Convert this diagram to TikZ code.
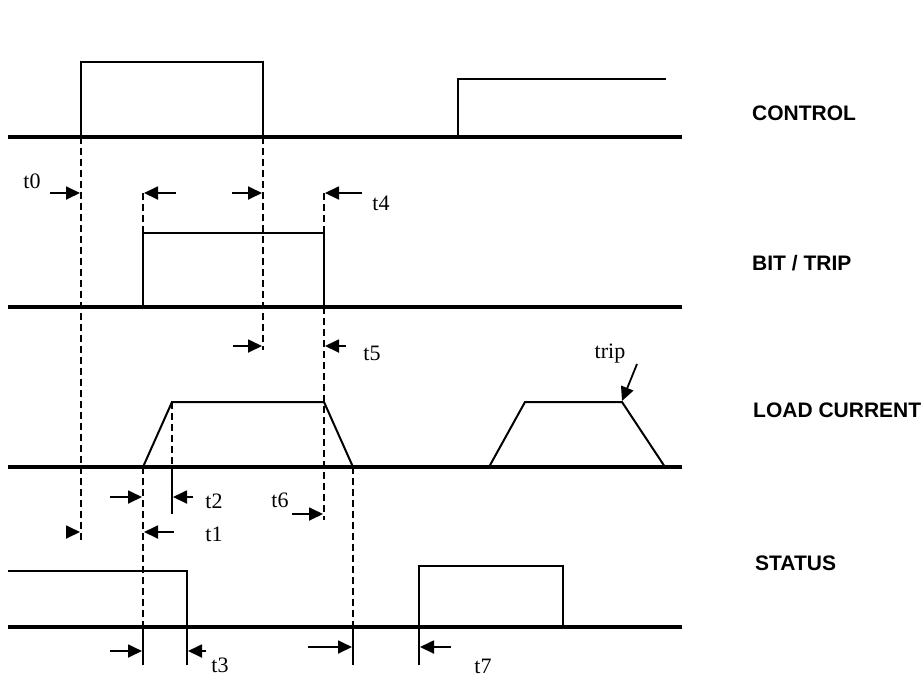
\documentclass[tikz,border=0pt]{standalone}
\usepackage{fontspec}
\setmainfont{Liberation Serif}
\newfontfamily\headfont{Liberation Sans}
\usepackage{tikz}
\usetikzlibrary{arrows.meta}
\tikzstyle{axis} = [line width=3.5pt]
\tikzstyle{signal} = [line width=2pt, line join=miter]
\tikzstyle{guide} = [line width=1.7pt, dash pattern=on 7pt off 4pt]
\tikzstyle{solidtick} = [line width=1.7pt]
\tikzstyle{timearrow} = [line width=1.8pt, -{Triangle[length=14pt,width=13pt]}]
\tikzstyle{tname} = [font=\fontsize{22}{22}\selectfont, inner sep=0pt]
\tikzstyle{signame} = [font=\headfont\bfseries\fontsize{21}{21}\selectfont, anchor=west, inner sep=0pt]

\begin{document}
\begin{tikzpicture}[x=1pt, y=-1pt]
    \useasboundingbox (0,0) rectangle (923,683);

    % Signal names
    \node [signame] (control) at (752,113) {CONTROL};
    \node [signame] (bittrip) at (752,263) {BIT / TRIP};
    \node [signame] (load) at (753,410) {LOAD CURRENT};
    \node [signame] (status) at (755,563) {STATUS};

    % Base lines
    \draw [axis] (8,137) -- (682,137);
    \draw [axis] (8,307) -- (682,307);
    \draw [axis] (8,467) -- (682,467);
    \draw [axis] (8,627) -- (682,627);

    % Waveforms
    \draw [signal] (81,137) -- (81,62) -- (263,62) -- (263,137);
    \draw [signal] (458,137) -- (458,79) -- (666,79);
    \draw [signal] (143,307) -- (143,233) -- (324,233) -- (324,307);
    \draw [signal] (143,467) -- (172,402) -- (324,402) -- (353,467);
    \draw [signal] (489,467) -- (525,402) -- (622,402) -- (665,467);
    \draw [signal] (8,571) -- (187,571) -- (187,627);
    \draw [signal] (419,627) -- (419,566) -- (563,566) -- (563,627);

    % Timing guides
    \draw [guide] (81,137) -- (81,542);
    \draw [guide] (143,193) -- (143,233);
    \draw [guide] (143,467) -- (143,627);
    \draw [guide] (263,137) -- (263,350);
    \draw [guide] (324,193) -- (324,233);
    \draw [guide] (324,307) -- (324,520);
    \draw [guide] (172,402) -- (172,467);
    \draw [guide] (353,467) -- (353,627);
    \draw [solidtick] (172,467) -- (172,514);
    \draw [solidtick] (143,627) -- (143,665);
    \draw [solidtick] (187,627) -- (187,665);
    \draw [solidtick] (353,627) -- (353,665);
    \draw [solidtick] (419,627) -- (419,665);

    % Arrow end points
    \coordinate (t0a) at (50,193);   \coordinate (t0b) at (80,193);
    \coordinate (t1c) at (176,193);  \coordinate (t1d) at (144,193);
    \coordinate (t5a) at (232,193);  \coordinate (t5b) at (262,193);
    \coordinate (t4a) at (362,193);  \coordinate (t4b) at (325,193);
    \coordinate (t5c) at (233,346);  \coordinate (t5d) at (262,346);
    \coordinate (t5e) at (346,346);  \coordinate (t5f) at (325,346);
    \coordinate (t2a) at (110,497);  \coordinate (t2b) at (142,497);
    \coordinate (t2c) at (193,497);  \coordinate (t2d) at (173,497);
    \coordinate (t6a) at (292,514);  \coordinate (t6b) at (323,514);
    \coordinate (t1a) at (66,532);   \coordinate (t1b) at (80,532);
    \coordinate (t1e) at (174,532);  \coordinate (t1f) at (144,532);
    \coordinate (t3a) at (110,651);  \coordinate (t3b) at (142,651);
    \coordinate (t3c) at (206,651);  \coordinate (t3d) at (188,651);
    \coordinate (t7a) at (308,647);  \coordinate (t7b) at (352,647);
    \coordinate (t7c) at (451,647);  \coordinate (t7d) at (420,647);
    \coordinate (tripa) at (637,364); \coordinate (tripb) at (622,401);

    % Arrows
    \draw [timearrow] (t0a) -- (t0b);
    \draw [timearrow] (t1c) -- (t1d);
    \draw [timearrow] (t5a) -- (t5b);
    \draw [timearrow] (t4a) -- (t4b);
    \draw [timearrow] (t5c) -- (t5d);
    \draw [timearrow] (t5e) -- (t5f);
    \draw [timearrow] (t2a) -- (t2b);
    \draw [timearrow] (t2c) -- (t2d);
    \draw [timearrow] (t6a) -- (t6b);
    \draw [timearrow] (t1a) -- (t1b);
    \draw [timearrow] (t1e) -- (t1f);
    \draw [timearrow] (t3a) -- (t3b);
    \draw [timearrow] (t3c) -- (t3d);
    \draw [timearrow] (t7a) -- (t7b);
    \draw [timearrow] (t7c) -- (t7d);
    \draw [timearrow] (tripa) -- (tripb);

    % Time labels
    \node [tname] (lt0) at (32,181) {t0};
    \node [tname] (lt4) at (381,203) {t4};
    \node [tname] (lt5) at (372,353) {t5};
    \node [tname] (ltrip) at (610,354) {trip};
    \node [tname] (lt2) at (214,501) {t2};
    \node [tname] (lt6) at (280,500) {t6};
    \node [tname] (lt1) at (214,534) {t1};
    \node [tname] (lt3) at (220,665) {t3};
    \node [tname] (lt7) at (483,666) {t7};
\end{tikzpicture}
\end{document}
